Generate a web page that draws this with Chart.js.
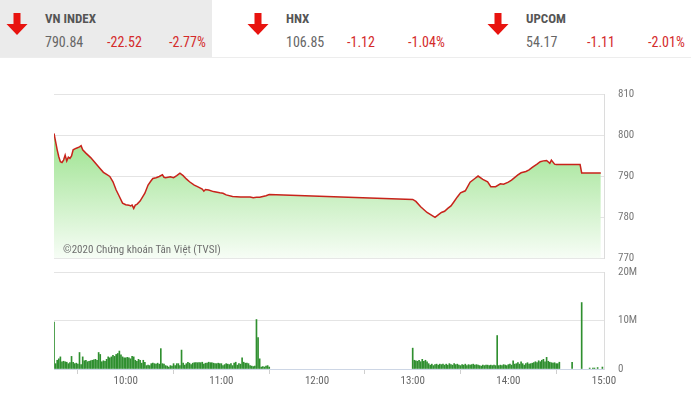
<!DOCTYPE html>
<html>
<head>
<meta charset="utf-8">
<script src="https://cdn.jsdelivr.net/npm/chart.js@4"></script>
<style>
  body { margin:0; width:691px; height:396px; background:#fff; position:relative; overflow:hidden;
         font-family:'Liberation Sans Narrow','Roboto Condensed','Roboto',sans-serif; }
  .hdr { position:absolute; left:0; top:0; width:691px; height:57px; border-bottom:1px solid #ededed; }
  .cur { position:absolute; left:0; top:0; width:212px; height:57px; background:#ebebeb; }
  .arr { position:absolute; top:13px; }
  .t { position:absolute; top:12px; font-size:13px; line-height:13px; font-weight:bold; color:#555; }
  .v { position:absolute; top:35px; font-size:14px; line-height:14px; color:#666; }
  .r { color:#d42a2a; }
  #wm { position:absolute; left:63px; top:244px; font-size:11px; line-height:11px; color:#6f6f6f; }
  canvas { position:absolute; left:0; }
</style>
</head>
<body>
<div class="hdr"><div class="cur"></div></div>

<svg class="arr" style="left:6px" width="22" height="22" viewBox="0 0 22 22"><path d="M7.5 0h7v11h7L11 22 0.5 11h7z" fill="#e8130f"/></svg>
<div class="t" style="left:45px">VN INDEX</div>
<div class="v" style="left:45px">790.84</div>
<div class="v r" style="left:107px">-22.52</div>
<div class="v r" style="left:169px">-2.77%</div>

<svg class="arr" style="left:247px" width="22" height="22" viewBox="0 0 22 22"><path d="M7.5 0h7v11h7L11 22 0.5 11h7z" fill="#e8130f"/></svg>
<div class="t" style="left:286px">HNX</div>
<div class="v" style="left:286px">106.85</div>
<div class="v r" style="left:347px">-1.12</div>
<div class="v r" style="left:408px">-1.04%</div>

<svg class="arr" style="left:487px" width="22" height="22" viewBox="0 0 22 22"><path d="M7.5 0h7v11h7L11 22 0.5 11h7z" fill="#e8130f"/></svg>
<div class="t" style="left:526px">UPCOM</div>
<div class="v" style="left:526px">54.17</div>
<div class="v r" style="left:587px">-1.11</div>
<div class="v r" style="left:648px">-2.01%</div>

<canvas id="price" width="691" height="180" style="top:85px"></canvas>
<canvas id="vol" width="691" height="131" style="top:265px"></canvas>
<div id="wm">©2020 Chứng khoán Tân Việt (TVSI)</div>

<script>
// VN-Index intraday, 9:15 -> 15:00
const priceTimes = [
  '09:15','09:16','09:17','09:18','09:19','09:20','09:21','09:22','09:23','09:24',
  '09:25','09:26','09:27','09:29','09:31','09:32','09:33','09:35','09:38','09:40',
  '09:42','09:44','09:46','09:48','09:50','09:52','09:54','09:56','09:58','10:00',
  '10:02','10:03','10:04','10:05','10:06','10:07','10:09','10:12','10:14','10:16',
  '10:17','10:19','10:21','10:23','10:24','10:25','10:28','10:30','10:32','10:34',
  '10:36','10:38','10:40','10:43','10:45','10:48','10:49','10:50','10:52','10:55',
  '10:59','11:01','11:03','11:07','11:12','11:15','11:18','11:20','11:22','11:24',
  '11:26','11:28','11:30',
  '13:00','13:02','13:05','13:09','13:12','13:14','13:16','13:18','13:20','13:22',
  '13:24','13:26','13:28','13:30','13:33','13:36','13:39','13:41','13:44','13:47',
  '13:49','13:52','13:55','13:57','14:00','14:02','14:06','14:08','14:11','14:13',
  '14:15','14:18','14:20','14:22','14:24','14:26','14:27','14:29','14:30','14:45',
  '14:46','14:58'
];
const priceValues = [
  800.5,798.5,796.5,794.8,793.6,793.4,794.0,795.2,793.8,794.7,
  794.4,795.0,796.5,796.9,797.2,797.5,796.5,795.7,794.6,793.7,
  792.8,791.9,791.0,790.5,790.0,788.7,786.7,785.1,783.5,783.1,
  783.0,782.8,783.0,782.2,783.0,783.2,784.0,785.9,787.9,789.0,
  789.5,789.7,790.0,790.4,789.8,789.7,789.9,789.7,790.2,790.8,
  790.2,789.4,788.7,787.9,787.5,786.9,786.4,786.8,786.7,786.3,
  786.0,785.9,785.5,785.1,785.0,785.0,785.0,784.8,784.9,784.9,
  785.1,785.3,785.6,
  784.4,783.9,782.6,781.2,780.5,780.0,780.6,781.2,781.5,782.2,
  782.8,783.9,785.0,786.0,786.5,788.6,789.5,790.1,789.3,788.7,
  787.5,787.5,788.2,788.1,788.6,789.1,790.4,790.9,791.2,791.6,
  792.2,793.0,793.6,793.8,793.9,793.2,794.0,793.0,792.9,792.9,
  790.84,790.84
];

// volume, millions of shares, one bar per minute from the session start
const volAmStart = '09:15';
const volAm = [
  9.7,
  1.1,1.8,2.1,2.5,1.5,1.6,1.5,1.4,1.1,1.3,
  2.6,1.4,1.1,1.2,1.0,3.4,0.9,2.5,1.7,1.8,1.5,
  1.6,1.7,1.8,1.9,2.0,1.8,3.4,3.0,1.5,1.7,
  1.6,2.0,2.5,2.3,2.5,2.8,2.6,3.0,3.2,3.7,2.9,
  2.5,2.3,2.3,2.4,2.3,2.1,2.6,2.5,1.8,1.6,2.0,
  1.8,1.2,1.8,1.4,0.7,0.8,0.7,1.1,1.2,1.1,1.0,
  1.2,1.0,4.2,1.1,1.0,0.7,0.6,0.4,0.7,0.6,
  1.1,0.7,1.1,1.1,0.7,3.9,1.2,0.8,1.1,1.4,1.2,
  0.9,1.2,1.3,1.3,1.3,1.3,1.3,1.4,1.0,1.2,1.2,
  1.4,1.3,1.3,1.2,1.1,1.1,1.2,1.1,1.1,0.7,
  0.9,1.1,1.0,0.9,1.1,0.7,1.2,1.4,0.8,1.1,1.0,
  2.3,1.4,1.2,1.2,1.1,0.7,0.6,0.5,0.6,10.2,
  6.5,2.1,0.4,0.5,0.4,0.6,0.7,0.4
];
const volPmStart = '13:00';
const volPm = [
  4.3,
  1.8,1.7,1.6,1.8,1.5,2.0,1.6,1.8,1.5,1.1,
  0.8,1.0,0.7,0.9,1.0,0.8,1.0,0.9,1.0,0.8,
  1.0,0.8,1.1,0.9,0.8,1.1,0.9,1.0,0.8,0.7,
  0.9,0.8,1.0,0.7,0.9,0.8,0.9,1.0,0.8,0.9,
  0.8,0.7,0.6,0.8,0.7,0.8,0.8,0.7,0.8,0.7,0.8,0.7,
  6.9,
  0.7,0.8,0.7,0.9,0.8,0.7,0.9,1.0,0.8,1.7,
  1.0,1.1,1.3,1.0,1.5,1.1,0.8,1.1,1.3,1.0,
  1.1,1.2,1.3,1.5,1.3,1.7,1.5,1.8,2.0,1.5,
  2.4,1.6,1.4,1.3,1.2,1.3,1.1,1.1,1.4
];
const volLateTimes = ['14:40','14:46','14:51','14:53','14:54','14:56','14:59'];
const volLate = [1.4,13.7,0.2,0.2,0.2,0.3,0.4];

const xTickLabels = ['10:00','11:00','12:00','13:00','14:00','15:00'];
const priceTicks = [770,780,790,800,810];
const volTicks = [0,10,20];
const volTickLabels = ['0','10M','20M'];

const FONT = "'Liberation Sans Narrow','Roboto Condensed','Roboto',sans-serif";
const toMin = s => { const p = s.split(':'); return (+p[0]) * 60 + (+p[1]); };
const X_MIN = toMin('09:15'), X_MAX = toMin('15:00');

const pricePts = priceTimes.map((t, i) => ({ x: toMin(t), y: priceValues[i] }));
const volPts = [];
volAm.forEach((v, i) => volPts.push({ x: toMin(volAmStart) + i, y: v }));
volPm.forEach((v, i) => volPts.push({ x: toMin(volPmStart) + i, y: v }));
volLate.forEach((v, i) => volPts.push({ x: toMin(volLateTimes[i]), y: v }));

// vung mau xanh duoi duong gia
function greenFill(ctx) {
  const area = ctx.chart.chartArea;
  if (!area) return 'rgba(150,220,140,0.5)';
  const g = ctx.chart.ctx.createLinearGradient(0, area.top, 0, area.bottom);
  g.addColorStop(0, '#8fdc82');
  g.addColorStop(0.35, '#a8e69c');
  g.addColorStop(1, '#f7fdf6');
  return g;
}

// khoang cach nhan truc y: dung vach tick trong suot thay cho ticks.padding
const rightGrid = { color: '#e4e4e4', drawTicks: true, tickLength: 14, tickColor: 'rgba(0,0,0,0)' };

new Chart(document.getElementById('price'), {
  type: 'line',
  data: {
    datasets: [{
      data: pricePts,
      borderColor: '#c8231b',
      borderWidth: 1.5,
      pointRadius: 0,
      tension: 0,
      fill: 'start',
      backgroundColor: greenFill
    }]
  },
  options: {
    responsive: false,
    animation: false,
    layout: { padding: { top: 9.5, left: 54, right: 0, bottom: 6 } },
    plugins: { legend: { display: false }, tooltip: { enabled: false } },
    scales: {
      x: { type: 'linear', min: X_MIN, max: X_MAX, display: false },
      y: {
        position: 'right', min: 770, max: 810,
        afterBuildTicks: s => { s.ticks = priceTicks.map(v => ({ value: v })); },
        afterFit: s => { s.width = 87; },
        grid: rightGrid,
        border: { display: true, color: '#dcdcdc' },
        ticks: { padding: 0, color: '#777', font: { size: 11, family: FONT } }
      }
    }
  }
});

new Chart(document.getElementById('vol'), {
  type: 'bar',
  data: {
    datasets: [{
      data: volPts,
      backgroundColor: '#2f8f2f',
      barThickness: 1,
      categoryPercentage: 1,
      barPercentage: 1
    }]
  },
  options: {
    responsive: false,
    animation: false,
    layout: { padding: { top: 7, left: 54, right: 0, bottom: 0 } },
    plugins: { legend: { display: false }, tooltip: { enabled: false } },
    scales: {
      x: {
        type: 'linear', min: X_MIN, max: X_MAX, offset: false,
        afterBuildTicks: s => { s.ticks = xTickLabels.map(l => ({ value: toMin(l) })); },
        afterFit: s => { s.height = 27; },
        grid: { drawOnChartArea: false, tickLength: 5, color: '#cfcfcf' },
        border: { display: true, color: '#cdd6e5' },
        ticks: { callback: (v, i) => xTickLabels[i], autoSkip: false, maxRotation: 0,
                 padding: 1, color: '#666', font: { size: 11, family: FONT } }
      },
      y: {
        position: 'right', min: 0, max: 20,
        afterBuildTicks: s => { s.ticks = volTicks.map(v => ({ value: v })); },
        afterFit: s => { s.width = 87; },
        grid: rightGrid,
        border: { display: true, color: '#dcdcdc' },
        ticks: { callback: (v, i) => volTickLabels[i], padding: 0, color: '#777',
                 font: { size: 11, family: FONT } }
      }
    }
  }
});
</script>
</body>
</html>
